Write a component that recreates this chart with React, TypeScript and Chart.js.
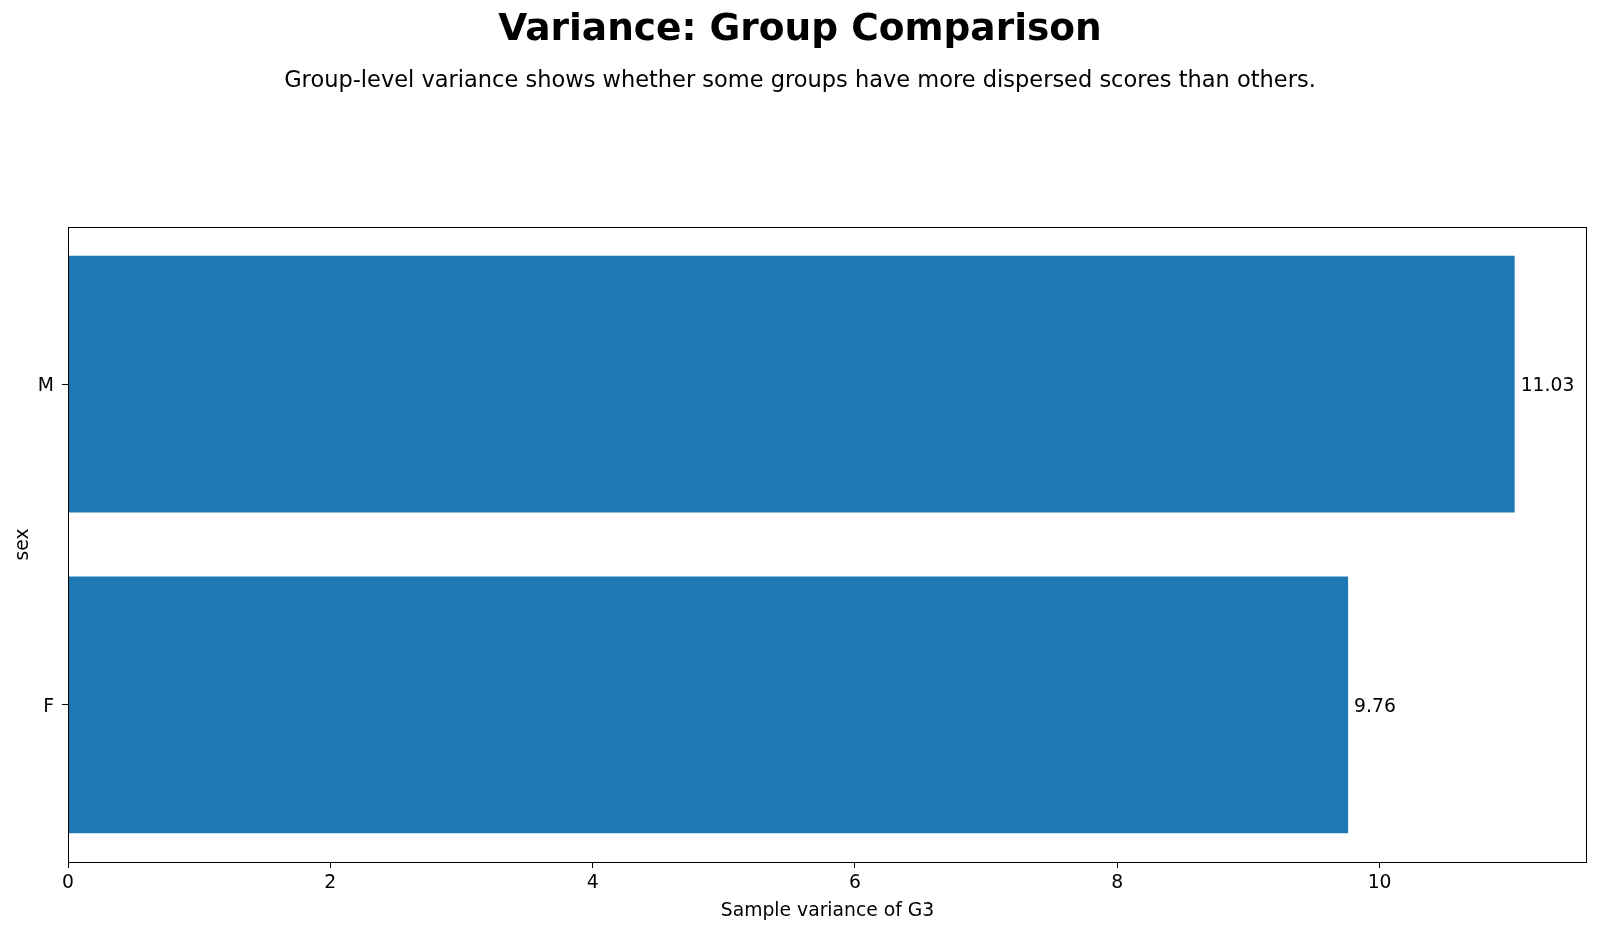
import React, { useEffect, useRef } from "react";
import { Chart, registerables } from "chart.js";

Chart.register(...registerables);

// ---- data ----
const categories = ["F", "M"];
const categoryPositions = [0, 1];
const variances = [9.76, 11.03];
const valueLabels = ["9.76", "11.03"];
const xTickValues = [0, 2, 4, 6, 8, 10];

const titleText = "Variance: Group Comparison";
const subtitleText = "Group-level variance shows whether some groups have more dispersed scores than others.";
const xAxisTitle = "Sample variance of G3";
const yAxisTitle = "sex";

const FONT = "'DejaVu Sans', sans-serif";
const BAR_COLOR = "#1f77b4";
const SMALL = 18.75;

const decorPlugin = {
  id: "decor",
  afterDraw(chart: any) {
    const { ctx, chartArea } = chart;
    ctx.save();
    // frame
    ctx.strokeStyle = "#000";
    ctx.lineWidth = 1;
    ctx.strokeRect(
      Math.round(chartArea.left) + 0.5,
      Math.round(chartArea.top) + 0.5,
      Math.round(chartArea.right - chartArea.left) - 1,
      Math.round(chartArea.bottom - chartArea.top)
    );
    // value labels
    const meta = chart.getDatasetMeta(0);
    ctx.fillStyle = "#000";
    ctx.font = `${SMALL}px ${FONT}`;
    ctx.textAlign = "left";
    ctx.textBaseline = "middle";
    meta.data.forEach((bar: any, i: number) => {
      ctx.fillText(valueLabels[i], bar.x + 6, bar.y + 2);
    });
    // title & subtitle
    ctx.textAlign = "center";
    ctx.textBaseline = "alphabetic";
    ctx.font = `bold 37.5px ${FONT}`;
    ctx.fillText(titleText, chart.width / 2, 40);
    ctx.font = `22.5px ${FONT}`;
    ctx.fillText(subtitleText, chart.width / 2, 86.5);
    ctx.restore();
  },
};

export default function App() {
  const ref = useRef<HTMLCanvasElement>(null);

  useEffect(() => {
    if (!ref.current) return;
    const data = categoryPositions.map((y, i) => ({ x: variances[i], y }));
    const chart = new Chart(ref.current, {
      type: "bar",
      data: {
        datasets: [
          {
            data: data as any,
            backgroundColor: BAR_COLOR,
            borderWidth: 0,
            barPercentage: 0.8,
            categoryPercentage: 1.0,
          },
        ],
      },
      options: {
        indexAxis: "y",
        responsive: false,
        animation: false,
        devicePixelRatio: 1,
        layout: { padding: { top: 227, right: 13, left: 0, bottom: 0 } },
        plugins: {
          legend: { display: false },
          tooltip: { enabled: false },
          title: { display: false },
        },
        scales: {
          x: {
            type: "linear",
            position: "bottom",
            min: 0,
            max: 11.03 * 1.05,
            afterBuildTicks: (s: any) => {
              s.ticks = xTickValues.map((v) => ({ value: v }));
            },
            afterFit: (s: any) => {
              s.height = 70;
            },
            grid: {
              display: true,
              drawOnChartArea: false,
              drawTicks: true,
              tickLength: 6,
              tickColor: "#000",
              tickWidth: 1,
              color: "#000",
            },
            border: { display: false },
            ticks: {
              color: "#000",
              font: { family: FONT, size: SMALL },
              padding: 4,
              maxRotation: 0,
              autoSkip: false,
            },
            title: {
              display: true,
              text: xAxisTitle,
              color: "#000",
              font: { family: FONT, size: SMALL },
              padding: { top: 0, bottom: 10 },
            },
          },
          y: {
            type: "linear",
            position: "left",
            min: -0.49,
            max: 1.49,
            offset: false,
            afterBuildTicks: (s: any) => {
              s.ticks = categoryPositions.map((v) => ({ value: v }));
            },
            afterFit: (s: any) => {
              s.width = 68;
            },
            grid: {
              display: true,
              offset: false,
              drawOnChartArea: false,
              drawTicks: true,
              tickLength: 6,
              tickColor: "#000",
              tickWidth: 1,
              color: "#000",
            },
            border: { display: false },
            ticks: {
              color: "#000",
              font: { family: FONT, size: SMALL },
              padding: 8,
              labelOffset: 2,
              autoSkip: false,
              callback: (v: any) => {
                const idx = categoryPositions.indexOf(Number(v));
                return idx >= 0 ? categories[idx] : "";
              },
            },
            title: {
              display: true,
              text: yAxisTitle,
              color: "#000",
              font: { family: FONT, size: SMALL },
              padding: { top: 12, bottom: 0 },
            },
          },
        },
      },
      plugins: [decorPlugin],
    });
    return () => chart.destroy();
  }, []);

  return (
    <div style={{ position: "absolute", left: 0, top: 0, width: 1600, height: 932, background: "#fff" }}>
      <canvas ref={ref} width={1600} height={932} style={{ display: "block" }} />
    </div>
  );
}
